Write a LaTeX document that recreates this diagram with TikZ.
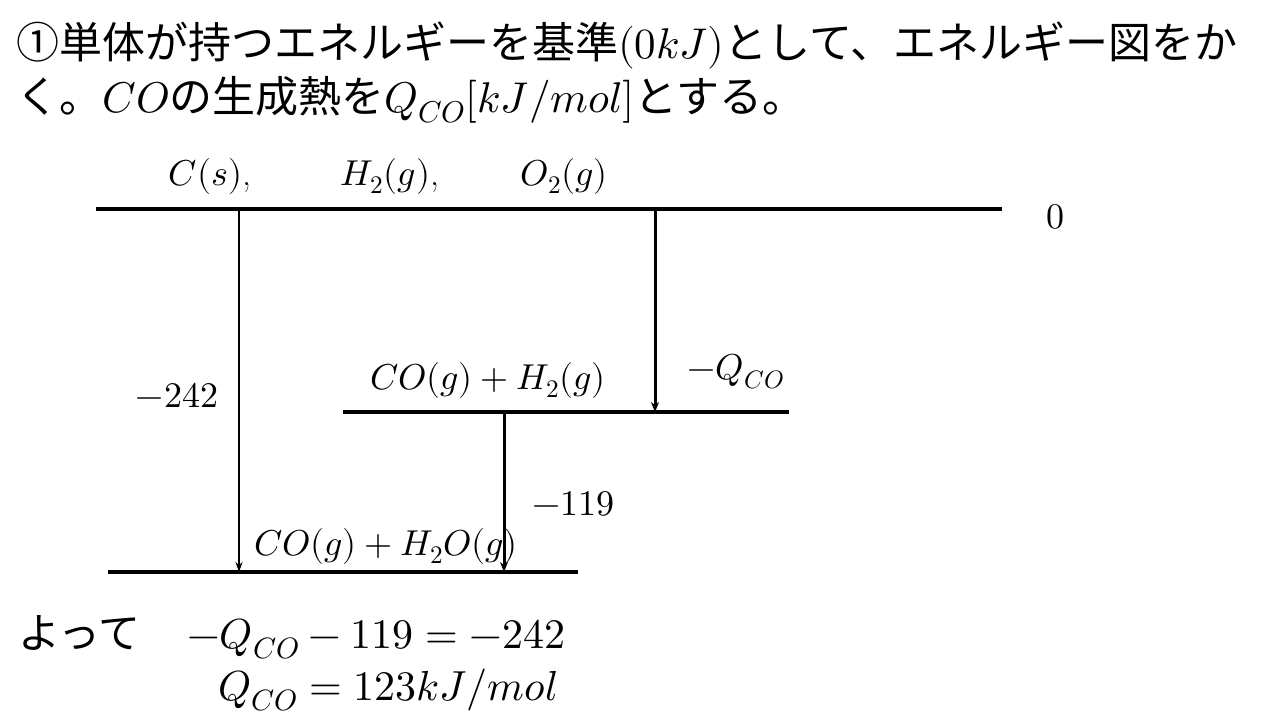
\documentclass[tikz,border=0pt]{standalone}
\usepackage{unicode-math}
\setmathfont{Latin Modern Math}
\newfontfamily\jp{Noto Sans CJK JP}
\usetikzlibrary{arrows.meta}
\begin{document}
\begin{tikzpicture}[x=1pt,y=-1pt,
  level/.style={line width=4pt},
  thinarrow/.style={line width=1.6pt,-{Stealth[length=10pt,width=7pt]}},
  thickarrow/.style={line width=3pt,-{Stealth[length=10pt,width=8pt]}},
  lab/.style={inner sep=0pt,font=\fontsize{36}{42}\selectfont},
  big/.style={inner sep=0pt,anchor=base west,font=\fontsize{42}{50}\selectfont},
  title/.style={inner sep=0pt,anchor=base west,font=\fontsize{43}{50}\selectfont},
]
\useasboundingbox[fill=white] (0,0) rectangle (1280,720);
% title
\node[title] (t1) at (16,58) {\jp ①単体が持つエネルギーを基準$(0kJ)$として、エネルギー図をか};
\node[title] (t2) at (16,112) {\jp く。$CO$の生成熱を$Q_{CO}[kJ/mol]$とする。};
% levels
\coordinate (L0a) at (96,209);  \coordinate (L0b) at (1002,209);
\coordinate (L1a) at (343,412); \coordinate (L1b) at (789,412);
\coordinate (L2a) at (108,572); \coordinate (L2b) at (578,572);
\draw[level] (L0a) -- (L0b);
\draw[level] (L1a) -- (L1b);
\draw[level] (L2a) -- (L2b);
% arrow endpoints
\coordinate (A0) at (239,209); \coordinate (A2) at (239,572);
\coordinate (B0) at (655,209); \coordinate (B1) at (655,412);
\coordinate (C1) at (504,412); \coordinate (C2) at (504,572);
\draw[thinarrow] (A0) -- (A2);
\draw[thickarrow] (B0) -- (B1);
\draw[thickarrow] (C1) -- (C2);
% labels
\node[lab] (cs) at (210,176) {$C(s)$,};
\node[lab] (h2) at (390,176) {$H_2(g)$,};
\node[lab] (o2) at (564,176) {$O_2(g)$};
\node[lab] (zero) at (1055,217) {$0$};
\node[lab] (m242) at (177,395) {$-242$};
\node[lab] (mq) at (736,372) {$-Q_{CO}$};
\node[lab] (mid) at (488,380) {$CO(g)+H_2(g)$};
\node[lab] (m119) at (573,504) {$-119$};
\node[lab] (low) at (386,546) {$CO(g)+H_2O(g)$};
% result
\node[big] (yotte) at (18,648) {\jp よって};
\node[big] (eq1) at (187,648) {$-Q_{CO}-119=-242$};
\node[big] (eq2) at (218,700) {$Q_{CO}=123kJ/mol$};
\end{tikzpicture}
\end{document}
